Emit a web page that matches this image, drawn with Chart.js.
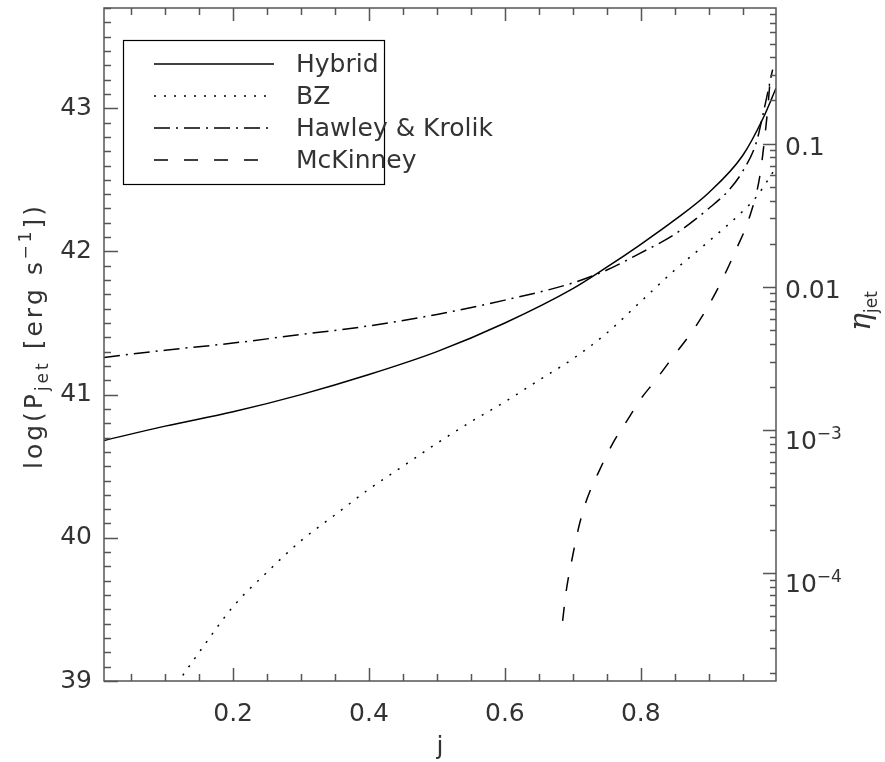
<!DOCTYPE html>
<html><head><meta charset="utf-8">
<script src="https://cdn.jsdelivr.net/npm/chart.js@4/dist/chart.umd.min.js"></script>
<style>html,body{margin:0;padding:0;background:#fff}canvas{display:block}</style>
</head><body>
<canvas id="c" width="885" height="762"></canvas>
<script>
const FONT = "'DejaVu Sans', sans-serif";
const TXT = '#333';
const AXC = '#555';

const seriesNames = ['Hybrid', 'BZ', 'Hawley & Krolik', 'McKinney'];

const jHybrid = [0.01,0.1,0.2,0.3,0.4,0.5,0.6,0.7,0.75,0.8,0.85,0.9,0.95,0.98,0.999];
const pHybrid = [40.68,40.78,40.88,41.00,41.14,41.30,41.50,41.74,41.89,42.05,42.22,42.41,42.67,42.93,43.14];

const jBZ = [0.1,0.12,0.15,0.2,0.25,0.3,0.35,0.4,0.45,0.5,0.55,0.6,0.65,0.7,0.75,0.8,0.85,0.9,0.95,0.97,0.99,0.998];
const pBZ = [38.87,39.0,39.2,39.52,39.76,39.98,40.16,40.34,40.50,40.66,40.81,40.95,41.10,41.25,41.43,41.65,41.87,42.07,42.28,42.38,42.52,42.58];

const jHK = [0.01,0.1,0.2,0.3,0.4,0.5,0.6,0.7,0.75,0.8,0.85,0.9,0.93,0.95,0.97,0.98,0.99,0.994];
const pHK = [41.26,41.31,41.36,41.42,41.48,41.56,41.66,41.78,41.87,41.99,42.12,42.30,42.43,42.56,42.76,42.96,43.18,43.27];

const jMK = [0.685,0.69,0.70,0.71,0.72,0.74,0.76,0.78,0.80,0.82,0.85,0.88,0.91,0.94,0.96,0.975,0.983,0.988,0.991];
const pMK = [39.42,39.62,39.88,40.10,40.26,40.48,40.67,40.82,40.97,41.09,41.28,41.47,41.71,42.01,42.24,42.52,42.82,43.06,43.24];

const xTickValues = [0.2, 0.4, 0.6, 0.8];
const yTickValues = [39, 40, 41, 42, 43];
const etaDecades = [-1, -2, -3, -4];
const etaLabels = [['0.1',''], ['0.01',''], ['10','\u22123'], ['10','\u22124']];
const ETA_OFFSET = 43.753;   // log P = log(eta) + offset
const X_MIN = 0.01, X_MAX = 0.999, Y_MIN = 39, Y_MAX = 43.70;

function pts(js, ps) { return js.map((j, i) => ({x: j, y: ps[i]})); }

const styles = [
  {borderDash: []},
  {borderDash: [2, 8]},
  {borderDash: [16, 6, 2, 6]},
  {borderDash: [14, 16]}
];

function drawRich(ctx, parts, cx, cy, rot, align, spacing) {
  ctx.save();
  ctx.translate(cx, cy);
  if (rot) ctx.rotate(rot);
  ctx.textBaseline = 'alphabetic';
  ctx.textAlign = 'left';
  const sp = spacing || 0;
  const widths = parts.map(p => { ctx.font = p.font; return ctx.measureText(p.t).width + sp * p.t.length; });
  const total = widths.reduce((a, b) => a + b, 0);
  let x = align === 'left' ? 0 : -total / 2;
  parts.forEach((p, i) => {
    ctx.font = p.font;
    ctx.fillStyle = TXT;
    let cxp = x;
    for (const ch of p.t) {
      ctx.fillText(ch, cxp, p.dy || 0);
      cxp += ctx.measureText(ch).width + sp;
    }
    x += widths[i];
  });
  ctx.restore();
}

function zeroPad(s) { s.paddingTop = 0; s.paddingBottom = 0; s.paddingLeft = 0; s.paddingRight = 0; }

const framePlugin = {
  id: 'frameTicks',
  afterDatasetsDraw(chart) {
    const {ctx, chartArea: a, scales} = chart;
    const xs = scales.x, ys = scales.y;
    ctx.save();
    ctx.strokeStyle = AXC;
    ctx.lineWidth = 1.5;
    ctx.setLineDash([]);
    ctx.strokeRect(a.left, a.top, a.right - a.left, a.bottom - a.top);
    ctx.beginPath();
    for (let k = 1; k * 0.05 <= X_MAX; k++) {
      const v = k * 0.05;
      if (v < X_MIN) continue;
      const px = Math.round(xs.getPixelForValue(v)) + 0.5;
      const L = (k % 4 === 0) ? 13 : 7;
      ctx.moveTo(px, a.bottom); ctx.lineTo(px, a.bottom - L);
      ctx.moveTo(px, a.top); ctx.lineTo(px, a.top + L);
    }
    for (let k = 0; 39 + k * 0.1 <= Y_MAX + 1e-9; k++) {
      const v = 39 + k * 0.1;
      const py = Math.round(ys.getPixelForValue(v)) + 0.5;
      const L = (k % 10 === 0) ? 14 : 7;
      ctx.moveTo(a.left, py); ctx.lineTo(a.left + L, py);
    }
    const y2 = scales.y2;
    for (let d = -5; d <= 0; d++) {
      for (let m = 1; m <= 9; m++) {
        const v = ETA_OFFSET + d + Math.log10(m);
        if (v < Y_MIN || v > Y_MAX) continue;
        const py = Math.round(y2.getPixelForValue(v)) + 0.5;
        const L = (m === 1) ? 13 : 6;
        ctx.moveTo(a.right, py); ctx.lineTo(a.right - L, py);
      }
    }
    ctx.stroke();
    ctx.restore();
  },
  afterDraw(chart) {
    const {ctx, chartArea: a, scales} = chart;
    const big = "25px " + FONT, small = "17px " + FONT;
    const y2 = scales.y2;
    etaDecades.forEach((d, i) => {
      const py = y2.getPixelForValue(ETA_OFFSET + d);
      const [base, sup] = etaLabels[i];
      const parts = [{t: base, font: big, dy: 0}];
      if (sup) parts.push({t: sup, font: small, dy: -10});
      drawRich(ctx, parts, a.right + 9, py + (sup ? 19 : 11), 0, 'left');
    });
    drawRich(ctx, [
      {t: 'log(P', font: big},
      {t: 'jet', font: small, dy: 6},
      {t: ' [erg s', font: big},
      {t: '\u22121', font: small, dy: -11},
      {t: '])', font: big}
    ], 42, 336, -Math.PI / 2, 'center', 3);
    drawRich(ctx, [
      {t: '\u03b7', font: "italic 30px 'DejaVu Serif', serif"},
      {t: 'jet', font: small, dy: 7}
    ], 870, 311, -Math.PI / 2);
    drawRich(ctx, [{t: 'j', font: big}], 440, 754, 0);
    ctx.save();
    ctx.strokeStyle = '#000';
    ctx.lineWidth = 1.2;
    ctx.setLineDash([]);
    ctx.strokeRect(123.5, 40.5, 261, 144);
    chart.data.datasets.forEach((ds, i) => {
      const y = 64 + i * 32;
      ctx.beginPath();
      ctx.strokeStyle = '#000';
      ctx.lineWidth = 1.5;
      ctx.setLineDash(ds.borderDash || []);
      ctx.moveTo(154, y); ctx.lineTo(274, y);
      ctx.stroke();
      ctx.setLineDash([]);
      ctx.fillStyle = TXT;
      ctx.font = big;
      ctx.textBaseline = 'middle';
      ctx.textAlign = 'left';
      ctx.fillText(ds.label, 296, y + 1);
    });
    ctx.restore();
  }
};

const datasets = [
  {label: seriesNames[0], data: pts(jHybrid, pHybrid)},
  {label: seriesNames[1], data: pts(jBZ, pBZ)},
  {label: seriesNames[2], data: pts(jHK, pHK)},
  {label: seriesNames[3], data: pts(jMK, pMK)}
].map((d, i) => Object.assign(d, {
  borderColor: '#000', borderWidth: 1.5, pointRadius: 0, fill: false,
  cubicInterpolationMode: 'monotone', borderDash: styles[i].borderDash
}));

new Chart(document.getElementById('c'), {
  type: 'line',
  data: {datasets},
  options: {
    responsive: false, animation: false, devicePixelRatio: 1,
    layout: {padding: {top: 8, left: 0, right: 0, bottom: 0}},
    plugins: {legend: {display: false}, tooltip: {enabled: false}},
    scales: {
      x: {
        type: 'linear', position: 'bottom', min: X_MIN, max: X_MAX,
        grid: {display: false, drawTicks: false}, border: {display: false},
        afterBuildTicks: s => { s.ticks = xTickValues.map(v => ({value: v})); },
        afterFit: s => { s.height = 81; zeroPad(s); },
        ticks: {font: {family: FONT, size: 25}, color: TXT, padding: 18, maxRotation: 0,
          callback: v => Number(v).toFixed(1)}
      },
      y: {
        type: 'linear', position: 'left', min: Y_MIN, max: Y_MAX,
        grid: {display: false, drawTicks: false}, border: {display: false},
        afterBuildTicks: s => { s.ticks = yTickValues.map(v => ({value: v})); },
        afterFit: s => { s.width = 104; zeroPad(s); },
        ticks: {font: {family: FONT, size: 25}, color: TXT, padding: 12,
          callback: v => String(Math.round(v))}
      },
      y2: {
        type: 'linear', position: 'right', min: Y_MIN, max: Y_MAX,
        grid: {display: false, drawTicks: false}, border: {display: false},
        afterFit: s => { s.width = 109; zeroPad(s); },
        ticks: {display: false}
      }
    }
  },
  plugins: [framePlugin]
});
</script>
</body></html>
